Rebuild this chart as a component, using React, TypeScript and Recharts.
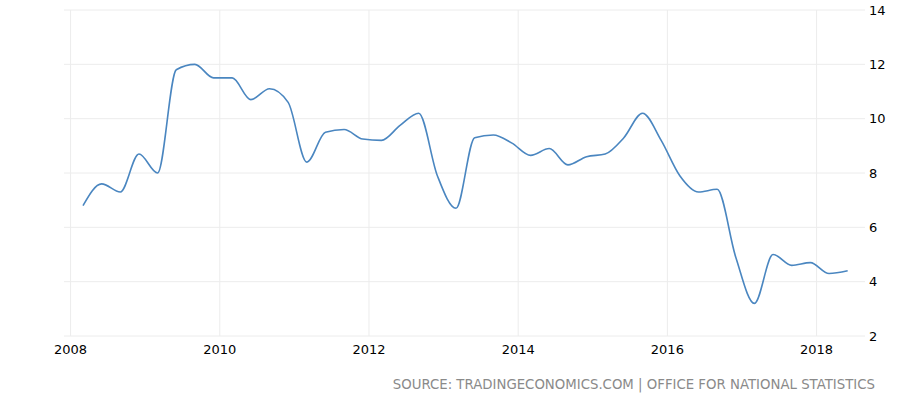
import React from 'react';
import { LineChart, Line, XAxis, YAxis, CartesianGrid } from 'recharts';

// quarterly readings, Mar/Jun/Sep/Dec, Q1 2008 - Q2 2018
const years = [2008, 2009, 2010, 2011, 2012, 2013, 2014, 2015, 2016, 2017, 2018];
const months = [3, 6, 9, 12];
const values = [
  6.8, 7.6, 7.3, 8.7,
  8.0, 11.8, 12.0, 11.5,
  11.5, 10.7, 11.1, 10.6,
  8.4, 9.5, 9.6, 9.25,
  9.2, 9.75, 10.2, 7.9,
  6.7, 9.3, 9.4, 9.1,
  8.65, 8.9, 8.3, 8.6,
  8.7, 9.3, 10.2, 9.2,
  7.9, 7.3, 7.4, 4.9,
  3.2, 5.0, 4.6, 4.7,
  4.3, 4.4,
];
const xTicks = [2008, 2010, 2012, 2014, 2016, 2018];
const yTicks = [2, 4, 6, 8, 10, 12, 14];
const xDomain = [2007.912, 2018.649];
const sourceText = 'SOURCE: TRADINGECONOMICS.COM | OFFICE FOR NATIONAL STATISTICS';

const data = values.map((v, i) => {
  const year = years[Math.floor(i / 4)];
  const month = months[i % 4];
  return { t: year + (month - 1) / 12, value: v };
});

const FONT = '"DejaVu Sans", Verdana, sans-serif';

// only draw vertical grid lines at the year ticks, not at the plot edges
const yearLines = ({ offset }: any) =>
  xTicks.map(t => offset.left + ((t - xDomain[0]) / (xDomain[1] - xDomain[0])) * offset.width);

export default function App() {
  return (
    <div style={{ position: 'absolute', left: 0, top: 0, width: 924, height: 406, background: '#fff' }}>
      <LineChart
        width={924}
        height={406}
        data={data}
        margin={{ top: 10, right: 0, left: 64, bottom: 40 }}
      >
        <CartesianGrid stroke="#ececec" strokeWidth={1} verticalCoordinatesGenerator={yearLines} />
        <XAxis
          dataKey="t"
          type="number"
          domain={xDomain}
          ticks={xTicks}
          allowDataOverflow
          axisLine={false}
          tickLine={false}
          tickSize={6}
          tickMargin={3}
          height={30}
          tick={{ fill: '#000', fontSize: 13, fontFamily: FONT }}
        />
        <YAxis
          orientation="right"
          type="number"
          domain={[2, 14]}
          ticks={yTicks}
          axisLine={false}
          tickLine={false}
          tickSize={2}
          tickMargin={2}
          width={59}
          tick={{ fill: '#000', fontSize: 13, fontFamily: FONT, textAnchor: 'start' }}
        />
        <Line
          type="monotone"
          dataKey="value"
          stroke="#4a86c0"
          strokeWidth={1.6}
          dot={false}
          isAnimationActive={false}
        />
      </LineChart>
      <div
        style={{
          position: 'absolute',
          right: 49,
          top: 377,
          fontFamily: FONT,
          fontSize: 13.3,
          color: '#8a8a8a',
          whiteSpace: 'nowrap',
        }}
      >
        {sourceText}
      </div>
    </div>
  );
}
